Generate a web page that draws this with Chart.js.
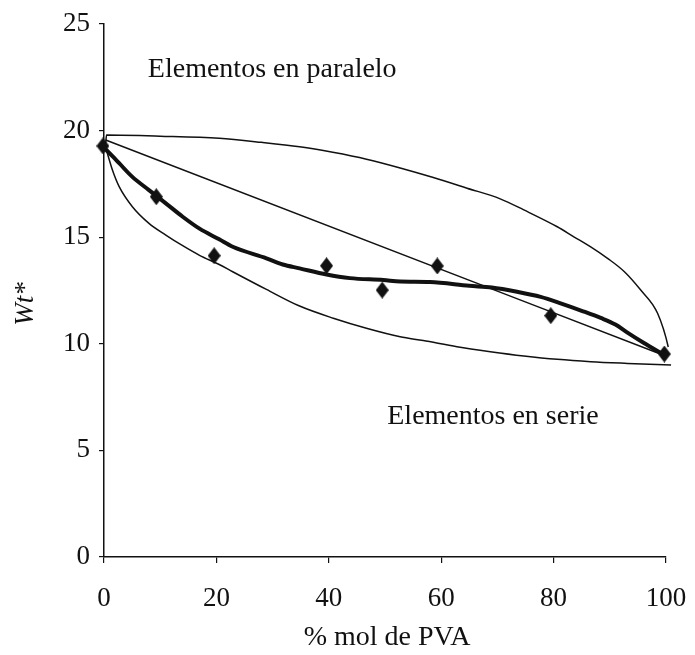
<!DOCTYPE html>
<html>
<head>
<meta charset="utf-8">
<script src="https://cdn.jsdelivr.net/npm/chart.js@4"></script>
<style>
  html, body { margin: 0; padding: 0; background: #ffffff; }
  #wrap { width: 695px; height: 655px; position: relative; }
</style>
</head>
<body>
<div id="wrap"><canvas id="c"></canvas></div>
<script>
// ---- data ----
const xTicks = [0, 20, 40, 60, 80, 100];
const yTicks = [0, 5, 10, 15, 20, 25];

const measuredX = [-0.2, 9.3, 19.6, 39.6, 49.5, 59.3, 79.5, 99.7];
const measuredY = [19.28, 16.9, 14.13, 13.66, 12.52, 13.65, 11.32, 9.52];

const fitX = [0, 1.5, 2.7, 5, 8, 11, 14, 17, 20.5, 22.9, 28.9, 31.8, 34.8, 39.6, 43.75, 49.7, 52.7, 58, 65, 69, 73.5, 77.7, 81.25, 85, 88.5, 91, 93, 96, 99.7];
const fitY = [19.2, 18.8, 18.47, 17.84, 17.21, 16.59, 15.96, 15.4, 14.9, 14.55, 14.01, 13.72, 13.54, 13.25, 13.08, 12.99, 12.92, 12.9, 12.72, 12.64, 12.44, 12.2, 11.9, 11.55, 11.2, 10.9, 10.55, 10.05, 9.47];

const ruleX = [0.3, 99.7];
const ruleY = [19.56, 9.45];

const paraleloX = [0.3, 0.45, 10, 20.5, 28, 34.8, 40.7, 46.7, 52.7, 58.6, 64.6, 70.5, 74.7, 80.65, 83.6, 86.6, 89.6, 92.6, 95.5, 98.5, 100.4, 100.9];
const paraleloY = [19.4, 19.79, 19.74, 19.64, 19.45, 19.24, 18.98, 18.66, 18.25, 17.8, 17.3, 16.8, 16.28, 15.49, 15.02, 14.55, 14.01, 13.38, 12.52, 11.43, 9.85, 9.1];

const serieX = [0.3, 1.5, 2.7, 5.05, 8, 11, 14, 17, 20.5, 22.9, 28.9, 34.8, 40.8, 46.7, 52.7, 56.8, 62.8, 68.75, 74.7, 80.65, 86.6, 93.15, 100.9];
const serieY = [19.2, 18.15, 17.37, 16.43, 15.65, 15.1, 14.6, 14.15, 13.72, 13.38, 12.55, 11.77, 11.2, 10.73, 10.33, 10.15, 9.86, 9.63, 9.43, 9.27, 9.16, 9.08, 9.0];

const notes = [
  { text: 'Elementos en paralelo', x: 7.8, y: 22.5 },
  { text: 'Elementos en serie', x: 50.4, y: 6.24 }
];
const xTitle = '% mol de PVA';
const yTitle = 'Wt*';

// ---- helpers ----
const pts = (xs, ys) => xs.map((x, i) => ({ x: x, y: ys[i] }));
const INK = '#111111';
const SERIF = "'Liberation Serif', 'DejaVu Serif', serif";

const diamond = document.createElement('canvas');
diamond.width = 13; diamond.height = 17;
(function () {
  const g = diamond.getContext('2d');
  g.fillStyle = INK;
  g.beginPath();
  g.moveTo(6.5, 0); g.lineTo(13, 8.5); g.lineTo(6.5, 17); g.lineTo(0, 8.5);
  g.closePath(); g.fill();
})();

const textPlugin = {
  id: 'texts',
  afterDraw(chart) {
    const ctx = chart.ctx;
    const xs = chart.scales.x, ys = chart.scales.y;
    ctx.save();
    ctx.fillStyle = INK;
    ctx.font = '28px ' + SERIF;
    ctx.textAlign = 'left';
    ctx.textBaseline = 'alphabetic';
    notes.forEach(n => ctx.fillText(n.text, xs.getPixelForValue(n.x), ys.getPixelForValue(n.y)));
    // x title
    ctx.textAlign = 'center';
    ctx.fillText(xTitle, (chart.chartArea.left + chart.chartArea.right) / 2 + 2, 645);
    // y title
    ctx.translate(26, 304);
    ctx.rotate(-Math.PI / 2);
    ctx.font = 'italic 27px ' + SERIF;
    ctx.textBaseline = 'middle';
    ctx.fillText(yTitle, 0, 0);
    ctx.restore();
  }
};

const thin = { showLine: true, pointRadius: 0, borderColor: INK, borderWidth: 1.5, cubicInterpolationMode: 'monotone', clip: false, fill: false };

new Chart(document.getElementById('c'), {
  type: 'scatter',
  data: {
    datasets: [
      { label: 'Datos', data: pts(measuredX, measuredY), pointStyle: diamond, pointRadius: 7, pointHoverRadius: 7, showLine: false, clip: false, backgroundColor: INK, borderColor: INK },
      { label: 'Ajuste', data: pts(fitX, fitY), showLine: true, pointRadius: 0, borderColor: INK, borderWidth: 4, cubicInterpolationMode: 'monotone', clip: false },
      Object.assign({ label: 'Lineal', data: pts(ruleX, ruleY) }, thin),
      Object.assign({ label: 'Paralelo', data: pts(paraleloX, paraleloY) }, thin),
      Object.assign({ label: 'Serie', data: pts(serieX, serieY) }, thin)
    ]
  },
  options: {
    responsive: true,
    maintainAspectRatio: false,
    animation: false,
    events: [],
    layout: { padding: { left: 0, right: 29, top: 24, bottom: 0 } },
    plugins: { legend: { display: false }, tooltip: { enabled: false } },
    scales: {
      x: {
        type: 'linear', min: 0, max: 100,
        afterBuildTicks: s => { s.ticks = xTicks.map(v => ({ value: v })); },
        afterFit: s => { s.height = 98; s.paddingLeft = 0; s.paddingRight = 0; },
        grid: { display: true, drawOnChartArea: false, drawTicks: true, tickLength: 6, color: INK, lineWidth: 1.2 },
        border: { display: true, color: INK, width: 1.5 },
        ticks: { color: INK, font: { family: SERIF, size: 27 }, padding: 20, maxRotation: 0 }
      },
      y: {
        type: 'linear', min: 0, max: 25,
        afterBuildTicks: s => { s.ticks = yTicks.map(v => ({ value: v })); },
        afterFit: s => { s.width = 104; s.paddingTop = 0; s.paddingBottom = 0; },
        grid: { display: true, drawOnChartArea: false, drawTicks: true, tickLength: 5, color: INK, lineWidth: 1.2 },
        border: { display: true, color: INK, width: 1.5 },
        ticks: { color: INK, font: { family: SERIF, size: 27 }, padding: 9 }
      }
    }
  },
  plugins: [textPlugin]
});
</script>
</body>
</html>
